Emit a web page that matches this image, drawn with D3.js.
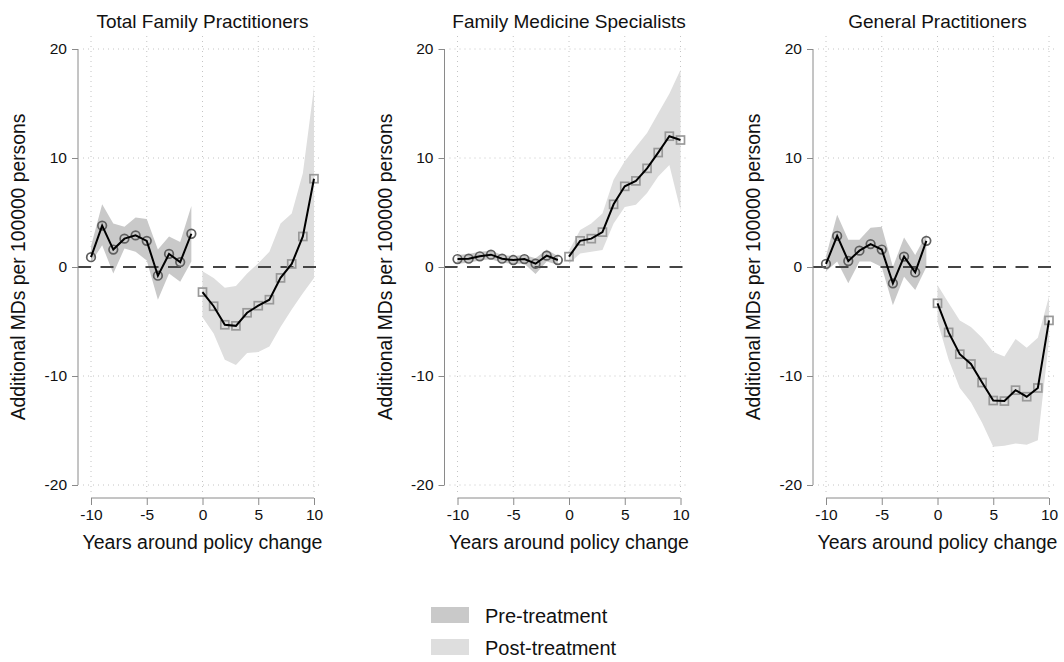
<!DOCTYPE html>
<html lang="en">
  <head>
    <meta charset="UTF-8" />
    <title>Event study</title>
    <style>
      body { margin: 0; background: #fff; }
      text { font-family: "Liberation Sans", Arial, sans-serif; fill: #111; }
    </style>
  </head>
  <body>
    <script src="https://d3js.org/d3.v7.min.js"></script>
    <script>
      const width = 1064;
      const height = 662;

      const titles = ["Total Family Practitioners", "Family Medicine Specialists", "General Practitioners"];
      const preYears = [-10, -9, -8, -7, -6, -5, -4, -3, -2, -1];
      const postYears = [0, 1, 2, 3, 4, 5, 6, 7, 8, 9, 10];
      const xTicks = [-10, -5, 0, 5, 10];
      const yTicks = [-20, -10, 0, 10, 20];

      // Total Family Practitioners
      const totalPre = [0.9, 3.8, 1.6, 2.6, 2.9, 2.4, -0.8, 1.2, 0.45, 3.05];
      const totalPreHi = [1.9, 5.75, 4.0, 3.7, 4.55, 4.4, 1.6, 2.8, 2.3, 5.6];
      const totalPreLo = [0.4, 2.0, -0.6, 1.7, 1.4, 0.6, -3.0, -0.6, -1.35, 0.5];
      const totalPost = [-2.3, -3.6, -5.3, -5.4, -4.2, -3.55, -3.0, -1.0, 0.28, 2.8, 8.1];
      const totalPostHi = [-0.4, -1.0, -1.9, -1.75, -0.6, 0.35, 1.4, 4.0, 4.9, 8.6, 16.5];
      const totalPostLo = [-4.6, -6.1, -8.5, -9.0, -7.9, -7.8, -7.3, -5.5, -3.9, -2.4, -1.0];

      // Family Medicine Specialists
      const fmsPre = [0.73, 0.76, 0.98, 1.13, 0.76, 0.64, 0.73, 0.3, 1.04, 0.64];
      const fmsPreHi = [1.1, 1.2, 1.4, 1.5, 1.1, 1.0, 1.1, 0.8, 1.6, 1.0];
      const fmsPreLo = [0.3, 0.4, 0.6, 0.7, 0.4, 0.3, 0.3, -0.65, 0.5, 0.2];
      const fmsPost = [0.95, 2.4, 2.6, 3.2, 5.75, 7.4, 7.9, 9.05, 10.5, 12.0, 11.65];
      const fmsPostHi = [1.5, 3.4, 4.0, 4.9, 8.0, 9.7, 11.0, 12.3, 14.1, 15.9, 18.1];
      const fmsPostLo = [0.3, 1.25, 1.4, 1.55, 4.0, 5.5, 5.7, 6.8, 8.3, 9.35, 5.2];

      // General Practitioners
      const gpPre = [0.28, 2.85, 0.55, 1.5, 2.1, 1.6, -1.5, 0.95, -0.5, 2.4];
      const gpPreHi = [1.0, 4.8, 2.5, 2.5, 3.6, 3.7, 0.0, 2.7, 1.1, 3.0];
      const gpPreLo = [-0.4, 0.5, -1.5, 0.5, 0.5, 0.0, -3.5, -0.9, -2.1, 0.0];
      const gpPost = [-3.33, -6.0, -8.0, -8.9, -10.6, -12.25, -12.3, -11.3, -11.9, -11.1, -4.9];
      const gpPostHi = [-1.65, -3.3, -4.9, -5.5, -6.5, -7.8, -8.2, -6.6, -7.4, -6.5, -2.7];
      const gpPostLo = [-5.0, -8.5, -11.1, -12.4, -14.3, -16.5, -16.4, -16.2, -16.3, -15.9, -6.7];

      const panels = [
        { pre: totalPre, preHi: totalPreHi, preLo: totalPreLo, post: totalPost, postHi: totalPostHi, postLo: totalPostLo },
        { pre: fmsPre, preHi: fmsPreHi, preLo: fmsPreLo, post: fmsPost, postHi: fmsPostHi, postLo: fmsPostLo },
        { pre: gpPre, preHi: gpPreHi, preLo: gpPreLo, post: gpPost, postHi: gpPostHi, postLo: gpPostLo },
      ];

      const preFill = "#c9c9c9";
      const postFill = "#dedede";
      const fmt = (d) => String(d); // plain hyphen minus, like the original

      const svg = d3
        .select("body")
        .append("svg")
        .attr("width", width)
        .attr("height", height);

      const y = d3.scaleLinear().domain([-20, 20]).range([485, 49]);
      const panelLeft = [91, 457.5, 826];

      panels.forEach((p, k) => {
        const x0 = panelLeft[k];
        const x = d3.scaleLinear().domain([-10, 10]).range([x0, x0 + 223]);
        const g = svg.append("g");
        const axisX = x0 - 13;
        const gridL = x0 - 8;
        const gridR = Math.min(x0 + 232, width - 2);

        // grid
        g.selectAll(".hg")
          .data(yTicks.filter((t) => t !== 0))
          .join("line")
          .attr("x1", gridL)
          .attr("x2", gridR)
          .attr("y1", (d) => y(d))
          .attr("y2", (d) => y(d))
          .attr("stroke", "#c4c4c4")
          .attr("stroke-width", 1)
          .attr("stroke-dasharray", "1,4");
        g.selectAll(".vg")
          .data(xTicks)
          .join("line")
          .attr("x1", (d) => x(d))
          .attr("x2", (d) => x(d))
          .attr("y1", 36)
          .attr("y2", 492)
          .attr("stroke", "#c4c4c4")
          .attr("stroke-width", 1)
          .attr("stroke-dasharray", "1,4");

        // bands
        const area = (xs, lo) =>
          d3.area()
            .x((d, i) => x(xs[i]))
            .y0((d, i) => y(lo[i]))
            .y1((d) => y(d));
        g.append("path").attr("d", area(preYears, p.preLo)(p.preHi)).attr("fill", preFill);
        g.append("path").attr("d", area(postYears, p.postLo)(p.postHi)).attr("fill", postFill);

        // zero line
        g.append("line")
          .attr("x1", axisX)
          .attr("x2", gridR)
          .attr("y1", y(0))
          .attr("y2", y(0))
          .attr("stroke", "#444")
          .attr("stroke-width", 2)
          .attr("stroke-dasharray", "13,9.5");

        // markers
        g.selectAll(".pm")
          .data(p.pre)
          .join("circle")
          .attr("cx", (d, i) => x(preYears[i]))
          .attr("cy", (d) => y(d))
          .attr("r", 4.3)
          .attr("fill", "none")
          .attr("stroke", "#5e5e5e")
          .attr("stroke-width", 1.7);
        g.selectAll(".qm")
          .data(p.post)
          .join("rect")
          .attr("x", (d, i) => x(postYears[i]) - 4)
          .attr("y", (d) => y(d) - 4)
          .attr("width", 8)
          .attr("height", 8)
          .attr("fill", "none")
          .attr("stroke", "#999")
          .attr("stroke-width", 1.7);

        // lines
        const line = (xs) => d3.line().x((d, i) => x(xs[i])).y((d) => y(d));
        g.append("path").attr("d", line(preYears)(p.pre)).attr("fill", "none").attr("stroke", "#000").attr("stroke-width", 2);
        g.append("path").attr("d", line(postYears)(p.post)).attr("fill", "none").attr("stroke", "#000").attr("stroke-width", 2);

        // y axis
        const ya = g.append("g")
          .attr("transform", `translate(${axisX},0)`)
          .call(d3.axisLeft(y).tickValues(yTicks).tickSize(6).tickPadding(5).tickFormat(fmt));
        ya.select(".domain").attr("stroke", "#8a8a8a").attr("d", `M0,${y(20)}V${y(-20)}`);
        ya.selectAll(".tick line").attr("stroke", "#8a8a8a");
        ya.selectAll(".tick text").style("font-size", "15.5px").attr("font-family", "Liberation Sans, Arial, sans-serif").attr("fill", "#111");

        // x axis
        const xa = g.append("g")
          .attr("transform", `translate(0,498)`)
          .call(d3.axisBottom(x).tickValues(xTicks).tickSize(7).tickPadding(4).tickFormat(fmt));
        xa.select(".domain").attr("stroke", "#8a8a8a").attr("d", `M${x(-10)},0H${x(10)}`);
        xa.selectAll(".tick line").attr("stroke", "#8a8a8a");
        xa.selectAll(".tick text").style("font-size", "15.5px").attr("font-family", "Liberation Sans, Arial, sans-serif").attr("fill", "#111");

        // titles
        g.append("text")
          .attr("x", x(0))
          .attr("y", 28)
          .attr("text-anchor", "middle")
          .style("font-size", "19px")
          .text(titles[k]);
        g.append("text")
          .attr("x", x(0))
          .attr("y", 549)
          .attr("text-anchor", "middle")
          .style("font-size", "19.5px")
          .text("Years around policy change");
        g.append("text")
          .attr("transform", `translate(${x0 - 66},${y(0)}) rotate(-90)`)
          .attr("text-anchor", "middle")
          .style("font-size", "19.3px")
          .text("Additional MDs per 100000 persons");
      });

      // legend
      const legend = [
        { label: "Pre-treatment", fill: preFill },
        { label: "Post-treatment", fill: postFill },
      ];
      const lg = svg.append("g").attr("transform", "translate(431,607)");
      lg.selectAll("rect")
        .data(legend)
        .join("rect")
        .attr("x", 0)
        .attr("y", (d, i) => i * 32)
        .attr("width", 38)
        .attr("height", 16)
        .attr("fill", (d) => d.fill);
      lg.selectAll("text")
        .data(legend)
        .join("text")
        .attr("x", 54)
        .attr("y", (d, i) => i * 32 + 15.5)
        .style("font-size", "20px")
        .text((d) => d.label);
    </script>
  </body>
</html>
